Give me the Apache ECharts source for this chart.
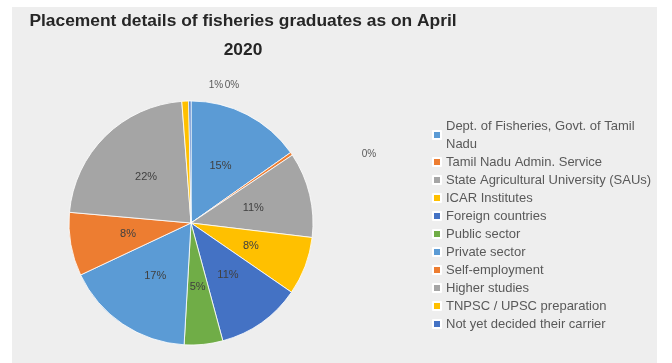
<!DOCTYPE html>
<html>
<head>
<meta charset="utf-8">
<script src="https://cdn.jsdelivr.net/npm/echarts@6/dist/echarts.min.js"></script>
<style>
  html, body { margin: 0; padding: 0; background: #ffffff; }
  #bg { position: absolute; left: 12px; top: 7px; width: 645px; height: 356px; background: #eeeeee; }
  #chart { position: absolute; left: 0; top: 0; width: 672px; height: 363px; }
</style>
</head>
<body>
<div id="bg"></div>
<div id="chart"></div>
<script>
// ---- data ----
const titleText = 'Placement details of fisheries graduates as on April\n2020';
const categories = [
  'Dept. of Fisheries, Govt. of Tamil\nNadu',
  'Tamil Nadu Admin. Service',
  'State Agricultural University (SAUs)',
  'ICAR Institutes',
  'Foreign countries',
  'Public sector',
  'Private sector',
  'Self-employment',
  'Higher studies',
  'TNPSC / UPSC preparation',
  'Not yet decided their carrier'
];
const shares = [15.2, 0.4, 11.3, 7.7, 11.2, 5.1, 17.1, 8.4, 22.4, 0.9, 0.3];
const sliceColors = ['#5B9BD5', '#ED7D31', '#A5A5A5', '#FFC000', '#4472C4', '#70AD47',
                     '#5B9BD5', '#ED7D31', '#A5A5A5', '#FFC000', '#4472C4'];
// small slices whose labels sit outside the pie (Excel placement)
const outsideLabelPos = { 1: [369, 154], 9: [216, 85], 10: [232, 85] };

const font = '"Liberation Sans", Arial, sans-serif';
const chart = echarts.init(document.getElementById('chart'), null, { renderer: 'canvas' });

const data = categories.map((c, i) => {
  const item = { name: c, value: shares[i], itemStyle: { color: sliceColors[i] } };
  if (outsideLabelPos[i]) {
    item.label = { position: 'outside', color: '#595959', fontSize: 10 };
    item.labelLine = { show: false };
  }
  return item;
});

chart.setOption({
  animation: false,
  backgroundColor: 'transparent',
  title: {
    text: titleText,
    left: 238,
    top: 2,
    textAlign: 'center',
    textStyle: { fontFamily: font, fontSize: 17.4, fontWeight: 'bold', color: '#262626', lineHeight: 29 }
  },
  legend: {
    orient: 'vertical',
    left: 427,
    top: 112,
    icon: 'rect',
    itemWidth: 8,
    itemHeight: 8,
    itemGap: 0,
    selectedMode: false,
    data: categories,
    textStyle: { fontFamily: font, fontSize: 13, color: '#595959', lineHeight: 18 }
  },
  series: [{
    type: 'pie',
    center: [191, 223],
    radius: 122,
    startAngle: 90,
    clockwise: true,
    avoidLabelOverlap: false,
    silent: true,
    itemStyle: { borderColor: '#ffffff', borderWidth: 0.8 },
    label: {
      show: true,
      position: 'inside',
      fontFamily: font,
      fontSize: 11,
      color: '#404040',
      formatter: p => Math.round(p.percent) + '%'
    },
    labelLine: { show: false },
    labelLayout: function (p) {
      const pos = outsideLabelPos[p.dataIndex];
      if (pos) return { x: pos[0], y: pos[1], align: 'center', verticalAlign: 'middle' };
      return {};
    },
    data: data
  }]
});
</script>
</body>
</html>
